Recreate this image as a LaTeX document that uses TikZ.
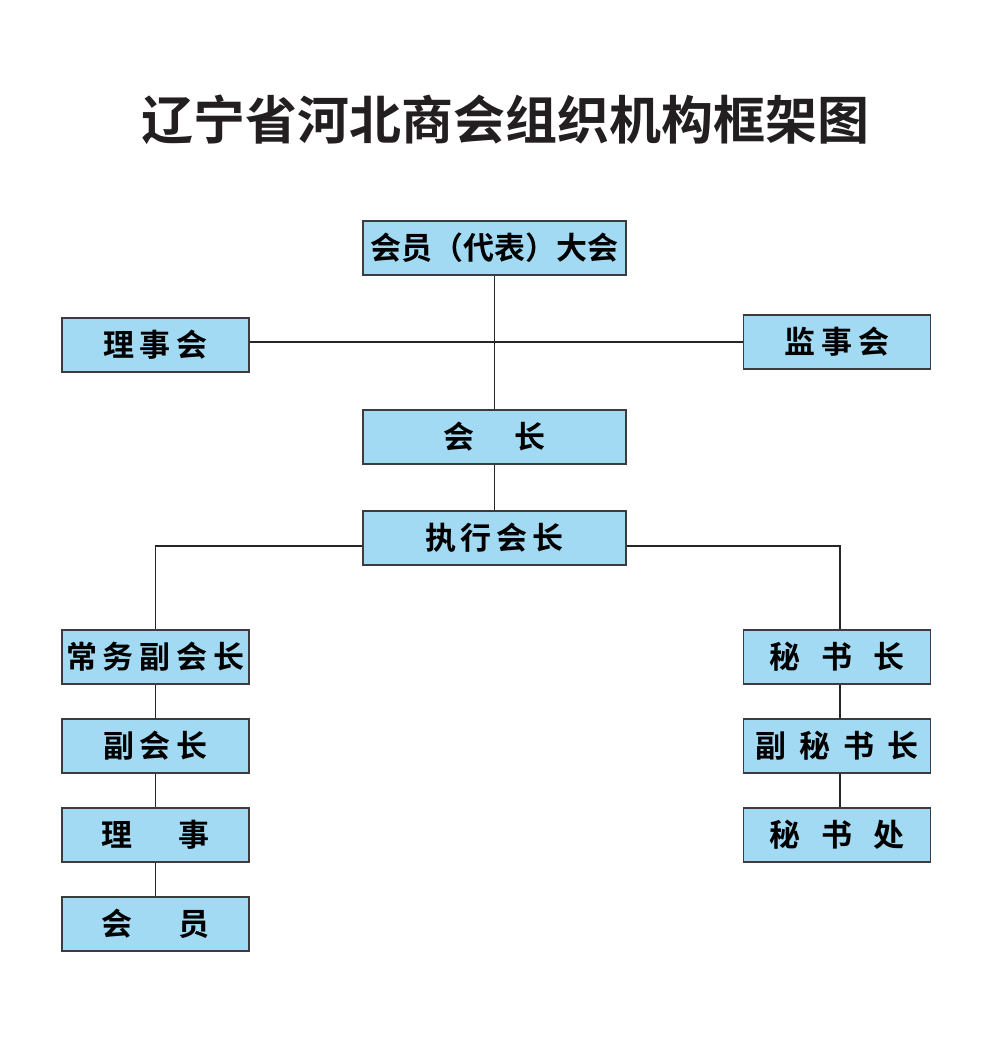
\documentclass[tikz,border=0pt]{standalone}
\usepackage{fontspec}
\setmainfont{Noto Sans CJK SC}[BoldFont={* Bold}]
\usetikzlibrary{positioning}
\definecolor{boxfill}{RGB}{163,218,243}
\definecolor{boxline}{RGB}{60,60,60}
\definecolor{titlecol}{RGB}{35,31,32}
\newcommand{\gp}[1]{\hspace{#1pt}}
\begin{document}
\begin{tikzpicture}[x=1pt,y=-1pt,
  orgbox/.style={draw=boxline, line width=1.4pt, fill=boxfill, inner sep=0pt,
    minimum height=54pt, text=black, font=\fontsize{31}{31}\selectfont\bfseries},
  widebox/.style={orgbox, minimum width=263pt},
  narrowbox/.style={orgbox, minimum width=187pt},
  link/.style={draw=black!85, line width=1.8pt}]
\useasboundingbox (0,0) rectangle (1000,1062);
\fill[white] (0,0) rectangle (1000,1062);

\node[text=titlecol, font=\fontsize{52}{52}\selectfont\bfseries, inner sep=0pt] (title) at (505,120) {辽宁省河北商会组织机构框架图};

\node[widebox] (dahui) at (494.5,248) {会员（代表）大会};
\node[narrowbox] (lsh) at (155.5,345) {理\gp{6}事\gp{6}会};
\node[narrowbox] (jsh) at (837,342) {监\gp{6}事\gp{6}会};
\node[widebox] (hz) at (494.5,437) {会\gp{40}长};
\node[widebox] (zx) at (494.5,538) {执\gp{5}行\gp{5}会\gp{5}长};

\node[narrowbox] (cw) at (155.5,657) {常\gp{6}务\gp{6}副\gp{6}会\gp{6}长};
\node[narrowbox] (fh) at (155.5,746) {副\gp{6}会\gp{6}长};
\node[narrowbox] (ls) at (155.5,835) {理\gp{46}事};
\node[narrowbox] (hy) at (155.5,924) {会\gp{46}员};

\node[narrowbox] (msz) at (837,657) {秘\gp{21}书\gp{21}长};
\node[narrowbox] (fms) at (837,746) {副\gp{13}秘\gp{13}书\gp{13}长};
\node[narrowbox] (msc) at (837,835) {秘\gp{21}书\gp{21}处};

\coordinate (cross) at (494.5,342);
\coordinate (lmid) at (155.5,546);
\coordinate (rmid) at (840,546);

\draw[link] (dahui.south) -- (hz.north);
\draw[link] (lsh.east |- cross) -- (jsh.west |- cross);
\draw[link] (hz.south) -- (zx.north);
\draw[link] (zx.west |- lmid) -- (lmid) -- (cw.north);
\draw[link] (zx.east |- rmid) -- (rmid) -- (rmid |- msz.north);
\draw[link] (cw.south) -- (fh.north);
\draw[link] (fh.south) -- (ls.north);
\draw[link] (ls.south) -- (hy.north);
\draw[link] (rmid |- msz.south) -- (rmid |- fms.north);
\draw[link] (rmid |- fms.south) -- (rmid |- msc.north);
\end{tikzpicture}
\end{document}
